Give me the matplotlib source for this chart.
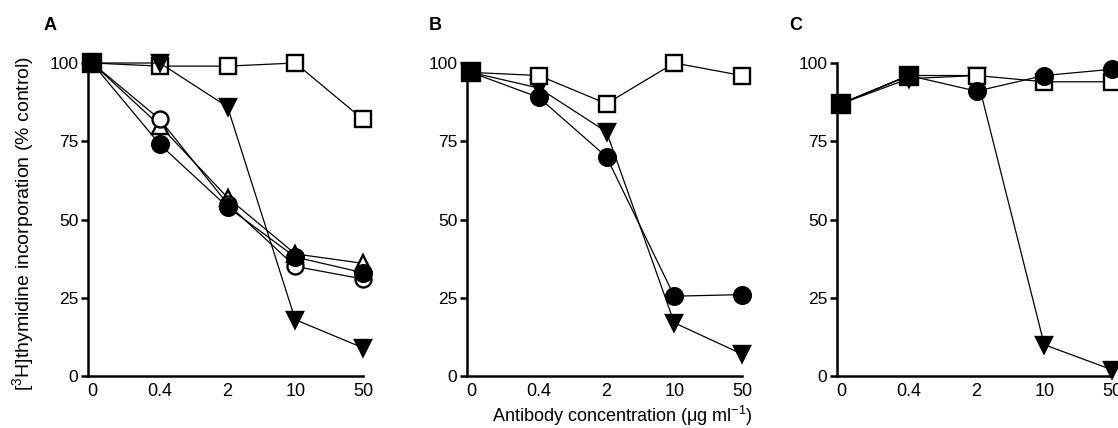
import matplotlib.pyplot as plt
import numpy as np

plt.rcParams['font.family'] = ['Liberation Sans', 'DejaVu Sans']
plt.rcParams['mathtext.fontset'] = 'custom'
plt.rcParams['mathtext.rm'] = 'Liberation Sans'
plt.rcParams['mathtext.it'] = 'Liberation Sans:italic'

nan = np.nan
conc_labels = ['0', '0.4', '2', '10', '50']
xpos = np.arange(len(conc_labels))

# panel A
A_open_sq = [100, 99, 99, 100, 82]
A_tri_down = [100, 100, 86, 18, 9]
A_open_circ = [100, 82, 55, 35, 31]
A_open_tri = [100, 80, 57, 39, 36]
A_circ = [100, 74, 54, 38, 33]
A_sq = [100, nan, nan, nan, nan]

# panel B
B_open_sq = [97, 96, 87, 100, 96]
B_tri_down = [97, 92, 78, 17, 7]
B_circ = [97, 89, 70, 25.5, 26]
B_sq = [97, nan, nan, nan, nan]

# panel C
C_open_sq = [87, 96, 96, 94, 94]
C_tri_down = [87, 95, 96, 10, 2]
C_circ = [87, 96, 91, 96, 98]
C_sq = [87, 96, nan, nan, nan]

fig = plt.figure(figsize=(11.18, 4.28), dpi=100)
W, H = 1118.0, 428.0
lefts = [88, 467, 837]
width = 275
bottom = 376
top = 63

styles = {
    'open_sq': dict(marker='s', mfc='white', ms=12),
    'tri_down': dict(marker='v', mfc='black', ms=12),
    'open_circ': dict(marker='o', mfc='white', ms=11.5),
    'open_tri': dict(marker='^', mfc='white', ms=11),
    'circ': dict(marker='o', mfc='black', ms=12),
    'sq': dict(marker='s', mfc='black', ms=13),
}

panels = [
    ('A', [('open_tri', A_open_tri), ('open_circ', A_open_circ), ('circ', A_circ),
           ('open_sq', A_open_sq), ('tri_down', A_tri_down), ('sq', A_sq)]),
    ('B', [('circ', B_circ), ('tri_down', B_tri_down), ('open_sq', B_open_sq), ('sq', B_sq)]),
    ('C', [('tri_down', C_tri_down), ('open_sq', C_open_sq), ('circ', C_circ), ('sq', C_sq)]),
]

for i, (letter, series) in enumerate(panels):
    ax = fig.add_axes([lefts[i] / W, (H - bottom) / H, width / W, (bottom - top) / H])
    for z, (kind, vals) in enumerate(series):
        st = styles[kind]
        ax.plot(xpos, vals, color='black', lw=0.9, marker=st['marker'], ms=st['ms'],
                mfc=st['mfc'], mec='black', mew=1.7, clip_on=False, zorder=3 + z)
    ax.set_xlim(-0.06, 4.0)
    ax.set_ylim(0, 100)
    ax.set_xticks(xpos)
    ax.set_xticklabels(conc_labels)
    ax.set_yticks([0, 25, 50, 75, 100])
    for s in ['top', 'right']:
        ax.spines[s].set_visible(False)
    for s in ['left', 'bottom']:
        ax.spines[s].set_linewidth(1.8)
    ax.tick_params(axis='y', direction='out', length=5, width=1.8, labelsize=12.5, pad=2)
    ax.tick_params(axis='x', length=0, labelsize=13, pad=5)
    fig.text([50, 435, 796][i] / W, (H - 25) / H, letter, fontsize=13, fontweight='bold',
             ha='center', va='center')

fig.text(23 / W, (H - 223) / H, '[$^{3}$H]thymidine incorporation (% control)',
         rotation=90, ha='center', va='center', fontsize=14)
fig.text(622 / W, (H - 416) / H, 'Antibody concentration (\u03bcg ml$^{-1}$)',
         ha='center', va='center', fontsize=13)

fig.savefig('out.png', dpi=100)
